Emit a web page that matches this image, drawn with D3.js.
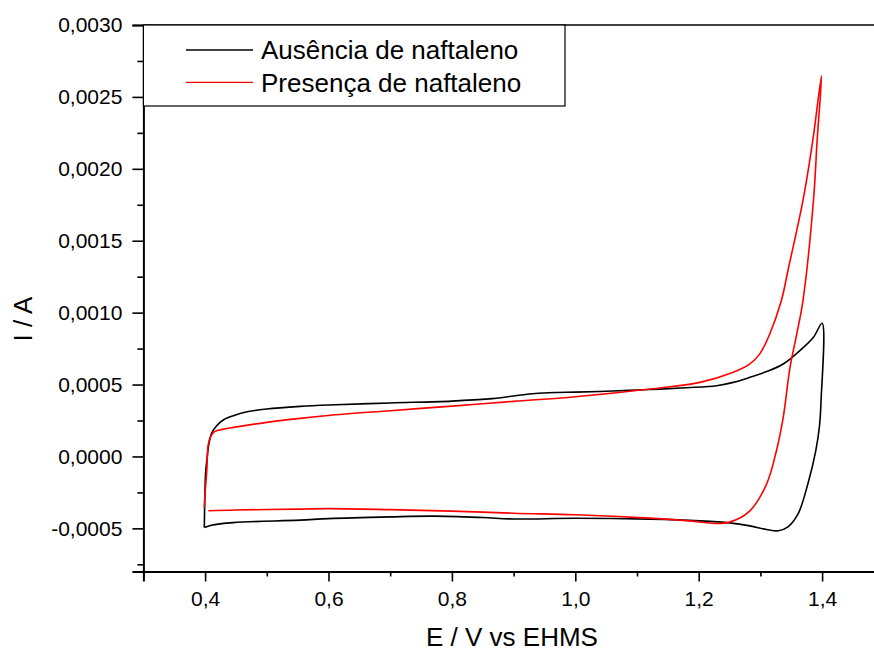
<!DOCTYPE html>
<html>
<head>
<meta charset="utf-8">
<script src="https://cdn.jsdelivr.net/npm/d3@7"></script>
<style>
  html, body { margin: 0; padding: 0; background: #fff; }
  svg { display: block; font-family: "Liberation Sans", Arial, sans-serif; }
</style>
</head>
<body>
<svg id="chart" width="874" height="651"></svg>
<script>
// ---- Data ----
const seriesNames = ["Ausência de naftaleno", "Presença de naftaleno"];
const seriesColors = ["#000000", "#ff0000"];

// Ausência de naftaleno: potential (V) and current (A), in scan order
const ausenciaE = [0.3987, 0.3995, 0.4010, 0.4036, 0.4052, 0.4080, 0.4110, 0.4188, 0.4300, 0.4457,
  0.4700, 0.5000, 0.5540, 0.6000, 0.7000, 0.8000, 0.8600, 0.9000, 0.9350, 0.9700, 1.0000,
  1.0600, 1.1210, 1.1800, 1.2290, 1.2560, 1.2830, 1.3100, 1.3370, 1.3640, 1.3860, 1.4000,
  1.3983, 1.3958, 1.3898, 1.3770, 1.3610, 1.3447, 1.3290, 1.3100, 1.2830, 1.2500,
  1.2020, 1.1210, 1.0000, 0.9000, 0.8500, 0.7700, 0.7000, 0.6000, 0.5540, 0.4457,
  0.4100, 0.3987];
const ausenciaI = [-0.000494, -0.000300, -0.000100, 0.000000, 0.000063, 0.000125, 0.000165, 0.000214, 0.000255, 0.000283,
  0.000312, 0.000330, 0.000348, 0.000358, 0.000372, 0.000385, 0.000400, 0.000420, 0.000438, 0.000445, 0.000447,
  0.000455, 0.000465, 0.000478, 0.000492, 0.000515, 0.000550, 0.000590, 0.000643, 0.000736, 0.000829, 0.000926,
  0.000388, 0.000214, 0.000040, -0.000190, -0.000400, -0.000490, -0.000517, -0.000508, -0.000483, -0.000462,
  -0.000448, -0.000436, -0.000430, -0.000435, -0.000425, -0.000415, -0.000420, -0.000432, -0.000443, -0.000460,
  -0.000478, -0.000494];

// Presença de naftaleno
const presencaE = [0.3987, 0.4000, 0.4015, 0.4030, 0.4036, 0.4052, 0.4097, 0.4160, 0.4300, 0.4457,
  0.5000, 0.5540, 0.6000, 0.7000, 0.8000, 0.9000, 1.0000, 1.1210, 1.2020, 1.2560,
  1.2830, 1.2990, 1.3150, 1.3340, 1.3450, 1.3690, 1.3850, 1.3990,
  1.3920, 1.3860, 1.3690, 1.3590, 1.3480, 1.3370, 1.3260, 1.3100, 1.2830, 1.2510,
  1.2260, 1.1900, 1.1210, 1.0000, 0.9000, 0.8000, 0.7000, 0.6000, 0.5540, 0.4500,
  0.4052];
const presencaI = [-0.000355, -0.000250, -0.000170, -0.000080, 0.000000, 0.000086, 0.000144, 0.000174, 0.000190, 0.000202,
  0.000237, 0.000265, 0.000285, 0.000318, 0.000350, 0.000383, 0.000415, 0.000469, 0.000515, 0.000585,
  0.000643, 0.000713, 0.000850, 0.001084, 0.001300, 0.001780, 0.002200, 0.002646,
  0.002200, 0.001780, 0.001084, 0.000852, 0.000620, 0.000272, 0.000040, -0.000192, -0.000378, -0.000455,
  -0.000466, -0.000450, -0.000429, -0.000405, -0.000395, -0.000380, -0.000370, -0.000363, -0.000366, -0.000372,
  -0.000378];

const xMajorTicks = [0.4, 0.6, 0.8, 1.0, 1.2, 1.4];
const xMinorTicks = [0.3, 0.5, 0.7, 0.9, 1.1, 1.3, 1.5];
const yMajorTicks = [-0.0005, 0.0000, 0.0005, 0.0010, 0.0015, 0.0020, 0.0025, 0.0030];
const yMinorTicks = [-0.00075, -0.00025, 0.00025, 0.00075, 0.00125, 0.00175, 0.00225, 0.00275];

const xTitle = "E / V vs EHMS";
const yTitle = "I / A";

// ---- Layout ----
const svg = d3.select("#chart");
const plotLeft = 143.4, plotTop = 25, plotBottom = 571.5;
const x = d3.scaleLinear().domain([0.3, 1.5]).range([plotLeft, plotLeft + 1.2 * 617]);
const y = d3.scaleLinear().domain([-0.0008, 0.0030]).range([plotBottom, plotTop]);
const fmtX = v => d3.format(".1f")(v).replace(".", ",");
const fmtY = v => d3.format(".4f")(v).replace(".", ",").replace("−", "-").replace("-0,0000", "0,0000");

// curves
const series = [
  { name: seriesNames[0], color: seriesColors[0], pts: ausenciaE.map((e, i) => [e, ausenciaI[i]]) },
  { name: seriesNames[1], color: seriesColors[1], pts: presencaE.map((e, i) => [e, presencaI[i]]) }
];
const line = d3.line().x(d => x(d[0])).y(d => y(d[1])).curve(d3.curveCatmullRom.alpha(0.5));
svg.append("g").selectAll("path").data(series).join("path")
  .attr("d", d => line(d.pts))
  .attr("fill", "none")
  .attr("stroke", d => d.color)
  .attr("stroke-width", 1.6)
  .attr("stroke-linejoin", "round");

// top frame line
svg.append("line").attr("x1", plotLeft).attr("x2", 874).attr("y1", plotTop).attr("y2", plotTop)
  .attr("stroke", "#000").attr("stroke-width", 1.3);

// x axis
const xAxis = d3.axisBottom(x).tickValues(xMajorTicks).tickFormat(fmtX).tickSizeOuter(0).tickSize(10).tickPadding(10);
const gx = svg.append("g").attr("transform", `translate(0,${plotBottom})`).call(xAxis);
gx.select(".domain").attr("stroke-width", 2);
gx.selectAll(".tick line").attr("stroke-width", 1.6);
gx.selectAll(".tick text").attr("font-size", 21).attr("font-family", "Liberation Sans, Arial, sans-serif").attr("fill", "#000");
const gxm = svg.append("g").attr("transform", `translate(0,${plotBottom})`)
  .call(d3.axisBottom(x).tickValues(xMinorTicks).tickFormat("").tickSize(5).tickSizeOuter(0));
gxm.select(".domain").remove();
gxm.selectAll(".tick line").attr("stroke-width", 1.6);

// y axis
const yAxis = d3.axisLeft(y).tickValues(yMajorTicks).tickFormat(fmtY).tickSizeOuter(0).tickSize(11).tickPadding(10);
const gy = svg.append("g").attr("transform", `translate(${plotLeft},0)`).call(yAxis);
gy.select(".domain").attr("stroke-width", 2);
gy.selectAll(".tick line").attr("stroke-width", 1.6);
gy.selectAll(".tick text").attr("font-size", 21).attr("font-family", "Liberation Sans, Arial, sans-serif").attr("fill", "#000");
const gym = svg.append("g").attr("transform", `translate(${plotLeft},0)`)
  .call(d3.axisLeft(y).tickValues(yMinorTicks).tickFormat("").tickSize(6).tickSizeOuter(0));
gym.select(".domain").remove();
gym.selectAll(".tick line").attr("stroke-width", 1.6);

// axis titles
svg.append("text").attr("x", 512).attr("y", 646).attr("text-anchor", "middle")
  .attr("font-size", 26).text(xTitle);
svg.append("text").attr("transform", "translate(32,319) rotate(-90)").attr("text-anchor", "middle")
  .attr("font-size", 26).text(yTitle);

// legend
const lg = svg.append("g");
lg.append("rect").attr("x", plotLeft).attr("y", plotTop).attr("width", 565 - plotLeft).attr("height", 106 - plotTop)
  .attr("fill", "#fff").attr("stroke", "#000").attr("stroke-width", 1.2);
const rows = lg.selectAll("g.row").data(series).join("g").attr("class", "row")
  .attr("transform", (d, i) => `translate(0,${50 + i * 32.3})`);
rows.append("line").attr("x1", 186).attr("x2", 253).attr("y1", 0).attr("y2", 0)
  .attr("stroke", d => d.color).attr("stroke-width", 1.3);
rows.append("text").attr("x", 261).attr("y", 9.3).attr("font-size", 26).attr("fill", "#000").text(d => d.name);
</script>
</body>
</html>
